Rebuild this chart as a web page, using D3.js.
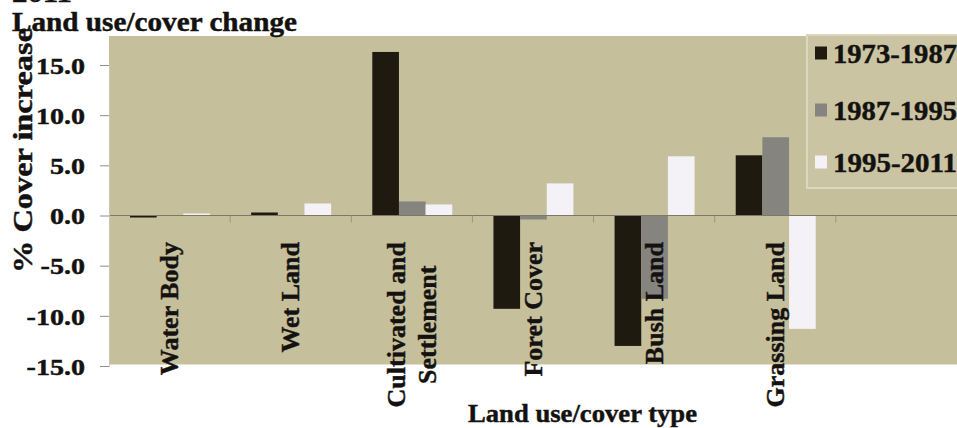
<!DOCTYPE html>
<html>
<head>
<meta charset="utf-8">
<script src="https://cdn.jsdelivr.net/npm/d3@7"></script>
<style>
  html, body { margin: 0; padding: 0; background: #ffffff; }
  svg { display: block; }
  text { font-family: "Liberation Serif", "Times New Roman", serif; font-weight: bold; fill: #141210;
         stroke: #141210; stroke-width: 0.45px; paint-order: stroke; }
</style>
</head>
<body>
<svg id="chart" width="957" height="428"></svg>
<script>
// Land use / cover categories (last slot is an empty category on the axis)
const categories = ["Water Body", "Wet Land", "Cultivated and\nSettlement", "Foret Cover", "Bush Land", "Grassing Land", ""];
const periods = ["1973-1987", "1987-1995", "1995-2011"];

// % cover change per period
const change7387 = [-0.2, 0.3, 16.3, -9.3, -13.0, 6.0];
const change8795 = [-0.05, -0.05, 1.4, -0.4, -8.3, 7.8];
const change9511 = [0.2, 1.2, 1.1, 3.2, 5.9, -11.3];

const yTicks = [-15, -10, -5, 0, 5, 10, 15];
const yTickLabels = ["-15.0", "-10.0", "-5.0", "0.0", "5.0", "10.0", "15.0"];

const seriesValues = [change7387, change8795, change9511];
const seriesColors = ["#1e1a10", "#85847f", "#f4f2f6"];

const svg = d3.select("#chart");

// Plot frame
const plotLeft = 109, plotRight = 957, plotTop = 36;

const x0 = d3.scaleBand().domain(categories.map((c, i) => i)).range([plotLeft, plotRight]).padding(0);
const x1 = d3.scaleBand().domain(periods).range([21, 101]).padding(0);
const y = d3.scaleLinear().domain([-15, 15]).range([366, 65]);

// Plot background
svg.append("rect")
  .attr("x", plotLeft).attr("y", plotTop)
  .attr("width", plotRight - plotLeft).attr("height", y(-15) - plotTop - 1.5)
  .attr("fill", "#c6bf9c");

// Bars
periods.forEach((p, si) => {
  svg.append("g").selectAll("rect")
    .data(seriesValues[si])
    .join("rect")
    .attr("x", (d, i) => x0(i) + x1(p))
    .attr("width", x1.bandwidth())
    .attr("y", d => y(Math.max(0, d)))
    .attr("height", d => Math.abs(y(d) - y(0)))
    .attr("fill", seriesColors[si]);
});

// Zero line with category boundary ticks
svg.append("line")
  .attr("x1", plotLeft).attr("x2", plotRight)
  .attr("y1", y(0)).attr("y2", y(0))
  .attr("stroke", "#7c776a").attr("stroke-width", 1.2);
svg.append("g").selectAll("line")
  .data(categories.map((c, i) => i).slice(1))
  .join("line")
  .attr("x1", i => x0(i)).attr("x2", i => x0(i))
  .attr("y1", y(0)).attr("y2", y(0) + 7)
  .attr("stroke", "#9a9480").attr("stroke-width", 1);

// Y axis
const yAxis = d3.axisLeft(y)
  .tickValues(yTicks)
  .tickSize(9)
  .tickPadding(15)
  .tickFormat((d, i) => yTickLabels[i]);
const gy = svg.append("g").attr("transform", `translate(${plotLeft},0)`).call(yAxis);
gy.select(".domain").attr("stroke", "#c9c6b8").attr("stroke-width", 1);
gy.selectAll(".tick line").attr("stroke", "#8e8e8e");
gy.selectAll(".tick text")
  .attr("font-size", 24)
  .attr("x", -24 / 1.17)
  .attr("dy", "0.34em")
  .attr("transform", "scale(1.17,1)");

// Category labels (rotated, multi-line centred)
const labelTop = 242;
categories.forEach((c, i) => {
  if (!c) return;
  const lines = c.split("\n");
  const cx = x0(i) + x0.bandwidth() / 2;
  const g = svg.append("g");
  const texts = lines.map(ln => g.append("text")
    .attr("font-size", 26)
    .attr("text-anchor", "middle")
    .text(ln));
  const maxLen = d3.max(texts, t => t.node().getComputedTextLength());
  const lineGap = 31;
  texts.forEach((t, li) => {
    const lx = cx + (li - (lines.length - 1) / 2) * lineGap;
    const ly = labelTop + maxLen / 2;
    t.attr("transform", `translate(${lx},${ly}) rotate(-90)`).attr("dy", "0.33em");
  });
});

// Axis titles
svg.append("text")
  .attr("x", 468).attr("y", 422)
  .attr("font-size", 26)
  .attr("textLength", 229).attr("lengthAdjust", "spacingAndGlyphs")
  .text("Land use/cover type");

svg.append("text")
  .attr("transform", "translate(32,273) rotate(-90)")
  .attr("font-size", 28)
  .attr("textLength", 245).attr("lengthAdjust", "spacingAndGlyphs")
  .text("% Cover increase");

// Chart title (first line runs off the top edge)
svg.append("text")
  .attr("x", 12).attr("y", 2)
  .attr("font-size", 26)
  .attr("textLength", 60).attr("lengthAdjust", "spacingAndGlyphs")
  .text("2011");
svg.append("text")
  .attr("x", 12).attr("y", 31)
  .attr("font-size", 27)
  .attr("textLength", 285).attr("lengthAdjust", "spacingAndGlyphs")
  .text("Land use/cover change");

// Legend
const legend = svg.append("g");
legend.append("rect")
  .attr("x", 807).attr("y", 35).attr("width", 160).attr("height", 153)
  .attr("fill", "#cac4a3").attr("stroke", "#dcd8c0").attr("stroke-width", 2);
const legendRows = [53, 110, 162];
periods.forEach((p, i) => {
  legend.append("rect")
    .attr("x", 815).attr("y", legendRows[i] - 6.5)
    .attr("width", 12).attr("height", 13)
    .attr("fill", seriesColors[i]);
  legend.append("text")
    .attr("x", 833).attr("y", legendRows[i])
    .attr("dy", "0.34em")
    .attr("font-size", 28)
    .attr("textLength", 124).attr("lengthAdjust", "spacingAndGlyphs")
    .text(p);
});
</script>
</body>
</html>
